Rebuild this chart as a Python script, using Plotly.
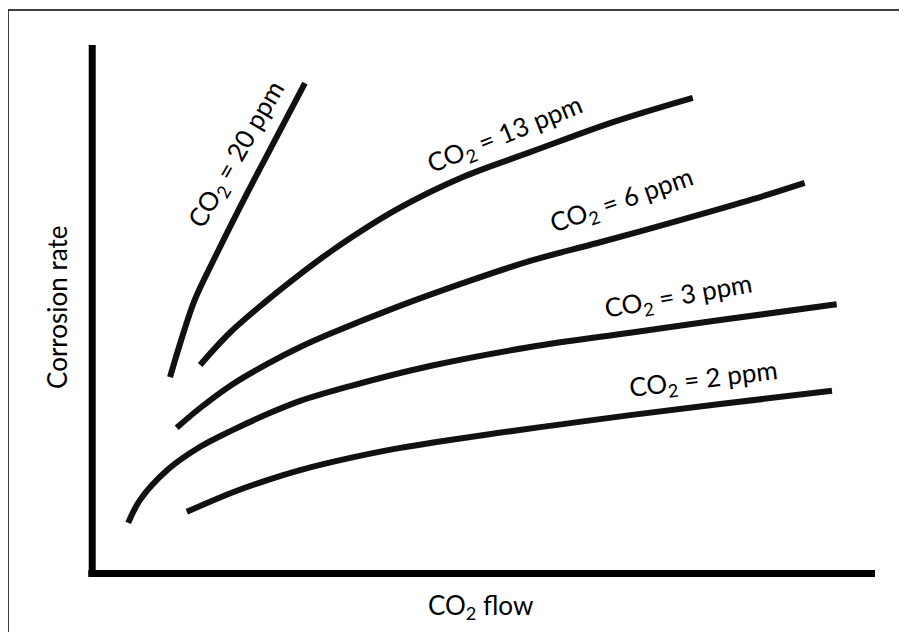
import plotly.graph_objects as go

# Curves (flow and rate in arbitrary units, 0-100)
flow_20 = [9.85, 11.4, 13.0, 15.6, 18.8, 22.6, 27.1]
rate_20 = [37.1, 44.7, 51.7, 59.8, 69.3, 80.1, 92.8]

flow_13 = [13.7, 17.5, 22.0, 26.5, 30.7, 38.9, 47.3, 55.9, 66.5, 76.7]
rate_13 = [39.4, 45.5, 51.3, 56.6, 61.2, 68.9, 75.0, 79.7, 85.4, 90.0]

flow_6 = [10.7, 13.7, 17.9, 22.3, 26.5, 30.3, 38.9, 47.3, 55.9, 64.5, 76.0, 84.4, 91.0]
rate_6 = [27.5, 31.25, 35.8, 39.6, 42.8, 45.3, 50.4, 54.9, 59.1, 62.5, 67.2, 70.8, 73.9]

flow_3 = [4.5, 6.0, 9.5, 13.7, 17.9, 22.3, 26.5, 32.9, 43.1, 55.9, 68.7, 80.2, 95.1]
rate_3 = [9.5, 13.8, 19.5, 23.9, 27.1, 30.1, 32.6, 35.4, 39.2, 42.8, 45.5, 47.9, 50.9]

flow_2 = [12.0, 17.9, 22.3, 26.5, 32.9, 39.3, 51.7, 60.1, 68.7, 80.2, 94.5]
rate_2 = [11.6, 15.3, 17.6, 19.5, 21.8, 23.7, 26.5, 28.2, 29.9, 32.0, 34.5]

series = [
    (flow_20, rate_20),
    (flow_13, rate_13),
    (flow_6, rate_6),
    (flow_3, rate_3),
    (flow_2, rate_2),
]

# Curve labels: text, position and angle along the curve
label_text = ["CO<sub>2</sub> = 20 ppm", "CO<sub>2</sub> = 13 ppm", "CO<sub>2</sub> = 6 ppm",
              "CO<sub>2</sub> = 3 ppm", "CO<sub>2</sub> = 2 ppm"]
label_x = [18.4, 52.7, 67.6, 74.9, 78.1]
label_y = [79.2, 83.0, 70.6, 52.3, 36.6]
label_angle = [-60, -22, -19, -10, -7]

FONT = "Lato"
INK = "#111111"
SIZE = 26

fig = go.Figure()
for fx, ry in series:
    fig.add_trace(go.Scatter(x=fx, y=ry, mode="lines", line_shape="spline",
                             line=dict(color=INK, width=6), hoverinfo="skip"))

for t, x, y, a in zip(label_text, label_x, label_y, label_angle):
    fig.add_annotation(x=x, y=y, text=t, textangle=a, showarrow=False,
                       xanchor="center", yanchor="middle",
                       font=dict(family=FONT, size=SIZE, color="black"))

# Axis titles
fig.add_annotation(x=-0.046, y=0.502, xref="paper", yref="paper", text="Corrosion rate",
                   textangle=-90, showarrow=False, xanchor="center", yanchor="middle",
                   font=dict(family=FONT, size=SIZE, color="black"))
fig.add_annotation(x=0.496, y=-0.0625, xref="paper", yref="paper", text="CO<sub>2</sub> flow",
                   showarrow=False, xanchor="center", yanchor="middle",
                   font=dict(family=FONT, size=SIZE, color="black"))

# Thick axis lines
fig.add_shape(type="line", xref="paper", yref="paper", x0=-0.001, x1=-0.001, y0=1.0, y1=-0.006,
              line=dict(color="black", width=7))
fig.add_shape(type="line", xref="paper", yref="paper", x0=-0.006, x1=1.0, y0=-0.001, y1=-0.001,
              line=dict(color="black", width=7))

# Thin outer frame (left and top edges visible)
fig.add_shape(type="line", xref="paper", yref="paper", x0=-0.1087, x1=-0.1087, y0=1.0663, y1=-0.2,
              line=dict(color="black", width=1.5))
fig.add_shape(type="line", xref="paper", yref="paper", x0=-0.1087, x1=1.1, y0=1.0663, y1=1.0663,
              line=dict(color="black", width=1.5))

fig.update_xaxes(range=[0, 100], showgrid=False, zeroline=False, showticklabels=False, ticks="")
fig.update_yaxes(range=[0, 100], showgrid=False, zeroline=False, showticklabels=False, ticks="")
# page body adds an 8px offset, so the plot area is pulled up/left to sit at 93,45..875,573
fig.update_layout(width=907, height=632, showlegend=False,
                  margin=dict(l=85, r=40, t=37, b=67),
                  plot_bgcolor="white", paper_bgcolor="white")

fig.write_html("out.html")
